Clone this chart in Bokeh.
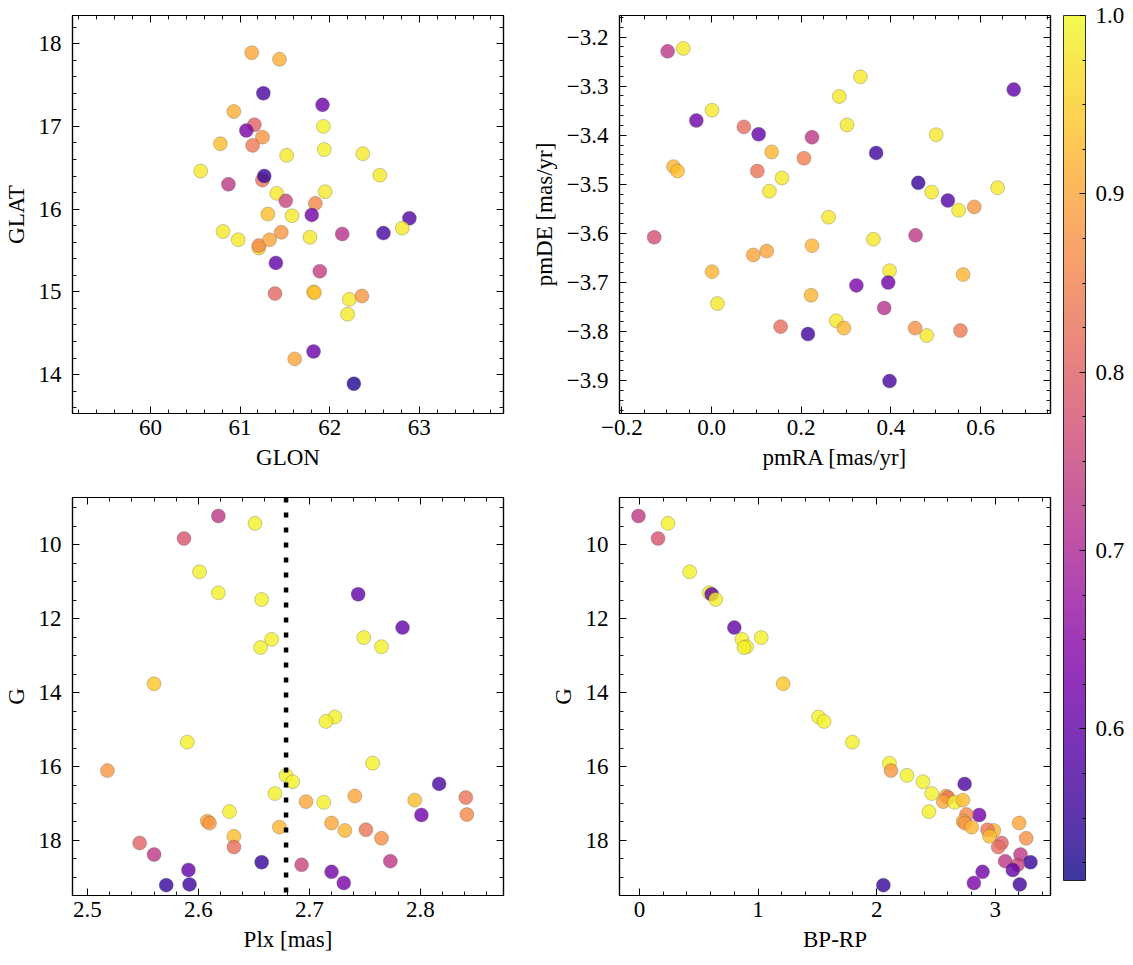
import numpy as np
from bokeh.plotting import figure
from bokeh.layouts import row, column
from bokeh.models import (Range1d, LinearAxis, FixedTicker, CustomJSTickFormatter,
                          LinearColorMapper, ColorBar, Span, ColumnDataSource)
from bokeh.palettes import Plasma256
from bokeh.embed import file_html
from bokeh.resources import INLINE

# ---------------- data ----------------
# Panel 1: Galactic coordinates
glon = [61.13, 61.44, 61.26, 61.92, 60.93, 61.16, 61.07, 61.93, 61.25, 60.78,
        61.14, 61.52, 61.94, 62.37, 60.56, 62.56, 61.25, 61.27, 60.87, 61.41,
        61.95, 61.51, 61.84, 61.31, 61.58, 61.80, 62.89, 60.81, 60.98, 61.21,
        61.21, 61.33, 61.46, 61.78, 62.14, 62.60, 62.81, 61.40, 61.89, 61.39,
        61.82, 61.83, 62.22, 62.36, 62.20, 61.82, 61.61, 62.27]
glat = [17.89, 17.81, 17.40, 17.26, 17.18, 17.02, 16.95, 17.00, 16.87, 16.79,
        16.77, 16.65, 16.72, 16.67, 16.46, 16.41, 16.35, 16.40, 16.30, 16.19,
        16.21, 16.10, 16.07, 15.94, 15.92, 15.93, 15.89, 15.73, 15.63, 15.53,
        15.56, 15.63, 15.72, 15.66, 15.70, 15.71, 15.77, 15.35, 15.25, 14.98,
        15.00, 14.99, 14.91, 14.95, 14.73, 14.28, 14.19, 13.89]
prob_pos = [0.90, 0.91, 0.57, 0.61, 0.91, 0.80, 0.63, 0.99, 0.88, 0.93,
            0.84, 0.98, 0.99, 0.98, 0.98, 0.98, 0.83, 0.55, 0.73, 0.98,
            0.98, 0.75, 0.86, 0.93, 0.98, 0.62, 0.58, 0.98, 0.98, 0.96,
            0.86, 0.90, 0.88, 0.98, 0.72, 0.57, 0.98, 0.60, 0.74, 0.81,
            0.96, 0.93, 0.98, 0.88, 0.98, 0.61, 0.90, 0.53]

# Panel 2: proper motions
pmra = [-0.098, -0.063, 0.332, 0.285, 0.674, 0.001, -0.034, 0.302, 0.072, 0.105,
        0.224, 0.501, 0.134, 0.367, 0.206, -0.085, -0.076, 0.102, 0.157, 0.129,
        0.461, 0.491, 0.638, 0.527, 0.551, 0.586, 0.261, -0.128, 0.455, 0.361,
        0.224, 0.123, 0.093, 0.001, 0.397, 0.561, 0.394, 0.323, 0.222, 0.013,
        0.385, 0.278, 0.295, 0.154, 0.215, 0.454, 0.480, 0.555, 0.397]
pmde = [-3.229, -3.223, -3.281, -3.321, -3.307, -3.349, -3.370, -3.379, -3.383, -3.398,
        -3.404, -3.399, -3.434, -3.436, -3.447, -3.464, -3.473, -3.473, -3.487, -3.514,
        -3.497, -3.516, -3.507, -3.533, -3.553, -3.546, -3.567, -3.608, -3.604, -3.612,
        -3.625, -3.636, -3.644, -3.678, -3.676, -3.684, -3.700, -3.706, -3.726, -3.743,
        -3.752, -3.778, -3.793, -3.790, -3.805, -3.793, -3.808, -3.798, -3.901]
prob_pm = [0.73, 0.98, 0.98, 0.98, 0.60, 0.98, 0.62, 0.98, 0.82, 0.60,
           0.73, 0.98, 0.92, 0.56, 0.85, 0.92, 0.93, 0.83, 0.98, 0.98,
           0.55, 0.98, 0.98, 0.58, 0.98, 0.88, 0.98, 0.77, 0.73, 0.98,
           0.92, 0.90, 0.90, 0.92, 0.98, 0.92, 0.62, 0.63, 0.92, 0.98,
           0.72, 0.98, 0.92, 0.82, 0.56, 0.87, 0.98, 0.84, 0.57]

# Panels 3 and 4: photometry / parallax (same stars)
gmag = [9.22, 9.42, 9.83, 10.73, 11.30, 11.34, 11.48, 12.24, 12.51, 12.56,
        12.76, 12.78, 13.76, 14.66, 14.78, 15.34, 15.91, 16.11, 16.24, 16.41,
        16.47, 16.73, 16.80, 16.84, 16.95, 16.97, 16.91, 17.22, 17.31, 17.30,
        17.48, 17.53, 17.53, 17.64, 17.73, 17.71, 17.89, 17.94, 18.07, 18.18,
        18.38, 18.56, 18.59, 18.66, 18.80, 18.85, 19.21, 19.19, 19.15]
plx = [2.618, 2.651, 2.587, 2.601, 2.618, 2.744, 2.657, 2.784, 2.749, 2.666,
       2.765, 2.656, 2.560, 2.723, 2.715, 2.590, 2.757, 2.518, 2.679, 2.685,
       2.817, 2.669, 2.741, 2.841, 2.697, 2.713, 2.795, 2.628, 2.801, 2.842,
       2.608, 2.610, 2.720, 2.673, 2.732, 2.751, 2.632, 2.765, 2.547, 2.632,
       2.560, 2.773, 2.657, 2.693, 2.591, 2.720, 2.571, 2.592, 2.731]
bp_rp = [-0.008, 0.242, 0.157, 0.424, 0.587, 0.609, 0.643, 0.800, 1.027, 0.865,
         0.904, 0.881, 1.212, 1.510, 1.557, 1.796, 2.108, 2.121, 2.256, 2.391,
         2.742, 2.464, 2.585, 2.602, 2.562, 2.658, 2.727, 2.441, 2.865, 2.758,
         2.730, 2.744, 3.202, 2.801, 2.988, 2.935, 2.952, 3.261, 3.053, 3.025,
         3.213, 3.084, 3.297, 3.190, 3.148, 2.893, 2.057, 3.207, 2.820]
prob_phot = [0.73, 0.99, 0.78, 0.99, 0.99, 0.60, 0.99, 0.60, 0.99, 0.99,
             0.99, 0.99, 0.94, 0.99, 0.99, 0.99, 0.99, 0.88, 0.99, 0.99,
             0.57, 0.99, 0.90, 0.83, 0.90, 0.99, 0.93, 0.99, 0.62, 0.86,
             0.90, 0.88, 0.90, 0.92, 0.92, 0.83, 0.93, 0.87, 0.80, 0.82,
             0.73, 0.73, 0.55, 0.75, 0.60, 0.62, 0.55, 0.56, 0.63]
plx_mean = 2.679

prob_low, prob_high = 0.515, 1.0
cbar_ticks = [0.6, 0.7, 0.8, 0.9, 1.0]

# ---------------- style ----------------
FONT = "Liberation Serif"
FS = "23px"

mapper = LinearColorMapper(palette=Plasma256, low=prob_low, high=prob_high)


def make_ticker(major, step, lo, hi):
    lo, hi = min(lo, hi), max(lo, hi)
    minor = np.arange(np.floor(lo / step) * step, hi + step, step)
    minor = [float(round(m, 6)) for m in minor if lo <= m <= hi]
    return FixedTicker(ticks=major, minor_ticks=minor)


def fmt(decimals):
    return CustomJSTickFormatter(code=(
        "const s = Math.abs(tick).toFixed(%d);"
        "return (tick < -1e-9 ? '\\u2212' : '') + s;" % decimals))


def style_axis(ax, ticker, labels, formatter=None, label=None, vertical=False):
    ax.ticker = ticker
    ax.major_tick_in = 7
    ax.major_tick_out = 0
    ax.minor_tick_in = 4
    ax.minor_tick_out = 0
    ax.axis_line_color = "black"
    ax.axis_line_width = 1.2
    ax.major_tick_line_color = "black"
    ax.minor_tick_line_color = "black"
    ax.major_tick_line_width = 1.0
    ax.minor_tick_line_width = 0.9
    if labels:
        ax.formatter = formatter
        ax.major_label_text_font = FONT
        ax.major_label_text_font_size = FS
        ax.major_label_text_color = "black"
        ax.major_label_standoff = 11 if vertical else 6
        ax.axis_label = label
        ax.axis_label_text_font = FONT
        ax.axis_label_text_font_size = FS
        ax.axis_label_text_color = "black"
        ax.axis_label_text_font_style = "normal"
        ax.axis_label_standoff = 7 if vertical else 7
    else:
        ax.major_label_text_font_size = "0px"
        ax.major_label_text_color = None
        ax.major_label_standoff = 0
        ax.axis_label = None


def make_panel(x, y, c, xr, yr, xmaj, xstep, ymaj, ystep, xfmt, yfmt,
               xlabel, ylabel, width, height, mbl, mbr, mbt, mbb):
    p = figure(width=width, height=height,
               x_range=Range1d(*xr), y_range=Range1d(*yr),
               output_backend="svg", toolbar_location=None,
               min_border_left=mbl, min_border_right=mbr,
               min_border_top=mbt, min_border_bottom=mbb)
    p.xgrid.visible = False
    p.ygrid.visible = False
    p.outline_line_color = "black"
    p.outline_line_width = 1.2
    p.background_fill_color = "white"
    p.border_fill_color = "white"
    src = ColumnDataSource(dict(x=x, y=y, c=c))
    p.scatter("x", "y", source=src, size=14,
              fill_color={"field": "c", "transform": mapper}, fill_alpha=0.8,
              line_color="#555555", line_alpha=0.5, line_width=0.6)
    xt = make_ticker(xmaj, xstep, *xr)
    yt = make_ticker(ymaj, ystep, *yr)
    style_axis(p.xaxis[0], xt, True, xfmt, xlabel, vertical=False)
    style_axis(p.yaxis[0], yt, True, yfmt, ylabel, vertical=True)
    top = LinearAxis()
    right = LinearAxis()
    style_axis(top, make_ticker(xmaj, xstep, *xr), False)
    style_axis(right, make_ticker(ymaj, ystep, *yr), False)
    p.add_layout(top, "above")
    p.add_layout(right, "right")
    return p


p1 = make_panel(glon, glat, prob_pos, (59.13, 63.94), (13.53, 18.34),
                [60, 61, 62, 63], 0.2, [14, 15, 16, 17, 18], 0.2, fmt(0), fmt(0),
                "GLON", "GLAT", 519, 495, 71, 16, 15, 82)
p2 = make_panel(pmra, pmde, prob_pm, (-0.2054, 0.756), (-3.967, -3.156),
                [-0.2, 0.0, 0.2, 0.4, 0.6], 0.05,
                [-3.9, -3.8, -3.7, -3.6, -3.5, -3.4, -3.3, -3.2], 0.02, fmt(1), fmt(1),
                "pmRA [mas/yr]", "pmDE [mas/yr]", 536, 495, 100, 5, 15, 82)
p3 = make_panel(plx, gmag, prob_phot, (2.4865, 2.875), (19.49, 8.72),
                [2.5, 2.6, 2.7, 2.8], 0.02, [10, 12, 14, 16, 18], 0.5, fmt(1), fmt(0),
                "Plx [mas]", "G", 519, 470, 71, 16, 2, 70)
p4 = make_panel(bp_rp, gmag, prob_phot, (-0.168, 3.466), (19.49, 8.72),
                [0, 1, 2, 3], 0.2, [10, 12, 14, 16, 18], 0.5, fmt(0), fmt(0),
                "BP-RP", "G", 536, 470, 100, 5, 2, 70)

p3.add_layout(Span(location=plx_mean, dimension="height", line_color="black",
                   line_width=4.5, line_dash="5 10"))

# ---------------- colour bar ----------------
cb_fig = figure(width=78, height=965, x_axis_type=None, y_axis_type=None,
                toolbar_location=None, output_backend="svg",
                min_border_left=8, min_border_top=15, min_border_right=0,
                min_border_bottom=0)
cb_fig.outline_line_color = None
cb_fig.xgrid.visible = False
cb_fig.ygrid.visible = False
cb = ColorBar(color_mapper=mapper, location="top_left", orientation="vertical",
              width=22, height=865, margin=0, padding=0, scale_alpha=0.8,
              ticker=make_ticker(cbar_ticks, 0.025, prob_low, prob_high),
              formatter=fmt(1),
              major_label_text_font=FONT, major_label_text_font_size=FS,
              major_label_text_color="black",
              label_standoff=10,
              major_tick_in=6, major_tick_out=0,
              minor_tick_in=3, minor_tick_out=0,
              major_tick_line_color="black", minor_tick_line_color="black",
              bar_line_color="black", bar_line_width=1,
              border_line_color=None, background_fill_alpha=0)
cb_fig.add_layout(cb, "center")

layout = row(column(p1, p3), column(p2, p4), cb_fig)

with open("out.html", "w", encoding="utf-8") as f:
    f.write(file_html(layout, INLINE))
